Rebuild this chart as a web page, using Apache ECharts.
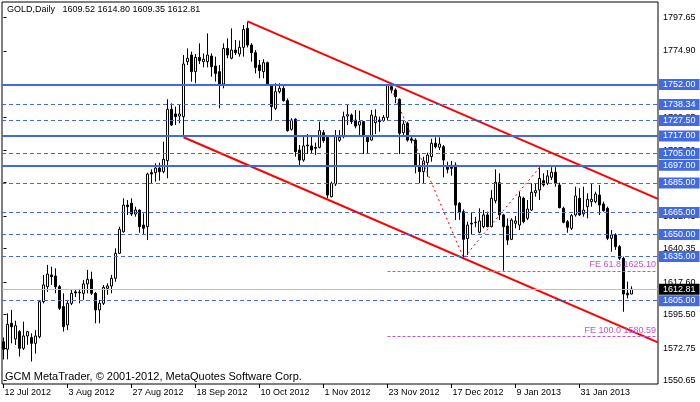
<!DOCTYPE html>
<html><head><meta charset="utf-8">
<script src="https://cdn.jsdelivr.net/npm/echarts@6/dist/echarts.min.js"></script>
<style>html,body{margin:0;padding:0;background:#fff}#c{width:700px;height:402px}</style>
</head><body><div id="c"></div>
<script>
const symbolName = 'GOLD,Daily';
const copyright = 'GCM MetaTrader, \u00a9 2001-2012, MetaQuotes Software Corp.';

const open = [1577.0,1572.0,1589.6,1579.0,1584.0,1572.6,1581.0,1580.0,1576.0,1580.5,
1604.3,1614.5,1622.5,1621.8,1614.5,1601.0,1588.5,1603.2,1611.0,1610.3,
1610.0,1616.4,1619.5,1610.0,1598.7,1603.2,1613.4,1615.0,1620.2,1637.2,
1651.9,1670.0,1671.2,1663.9,1666.6,1656.4,1655.3,1692.0,1692.0,1695.2,
1692.7,1700.2,1735.1,1731.9,1730.5,1730.1,1767.5,1772.0,1760.7,1770.4,
1767.5,1767.5,1771.3,1764.5,1760.7,1752.3,1776.5,1769.8,1775.4,1772.7,
1777.2,1790.1,1778.8,1773.6,1765.2,1760.7,1766.8,1751.6,1735.8,1747.1,
1749.4,1741.0,1721.5,1728.3,1707.4,1700.6,1710.2,1710.2,1709.2,1709.2,
1719.2,1716.0,1675.7,1684.3,1714.0,1716.5,1730.5,1731.2,1727.8,1724.4,
1726.7,1716.0,1714.2,1726.0,1727.8,1727.4,1729.6,1750.5,1748.2,1741.9,
1719.2,1725.6,1715.0,1714.2,1696.1,1692.7,1698.8,1702.9,1712.0,1709.3,
1709.7,1696.1,1697.0,1697.2,1671.2,1665.5,1647.2,1657.6,1658.0,1651.5,
1655.3,1663.3,1655.3,1673.0,1685.2,1663.3,1655.8,1646.7,1657.6,1656.4,
1674.6,1661.0,1666.6,1678.4,1680.2,1686.6,1684.8,1688.9,1692.3,1683.6,
1667.8,1658.7,1654.2,1663.3,1674.6,1664.0,1668.9,1672.3,1672.3,1676.8,
1670.7,1667.8,1647.4,1649.7,1641.7,1633.8,1610.0,1609.52];

const high = [1580.0,1596.4,1598.7,1591.4,1585.0,1590.7,1584.5,1582.8,1585.0,1605.5,
1622.5,1629.3,1628.1,1627.0,1615.7,1610.0,1605.5,1612.3,1613.0,1613.0,
1619.0,1625.9,1624.7,1611.0,1605.5,1615.7,1616.8,1622.5,1640.6,1655.3,
1674.6,1673.4,1674.6,1668.9,1667.0,1664.4,1692.0,1694.3,1698.4,1698.8,
1713.1,1741.9,1739.1,1736.9,1738.0,1772.0,1776.5,1774.3,1772.7,1779.9,
1773.1,1786.7,1773.1,1770.9,1765.2,1779.9,1783.3,1790.1,1782.2,1781.8,
1792.4,1794.7,1780.0,1775.4,1768.6,1769.1,1767.5,1752.0,1752.8,1752.8,
1751.6,1742.5,1729.0,1729.0,1710.8,1716.5,1718.3,1716.5,1712.4,1726.7,
1721.0,1716.5,1685.9,1721.0,1721.0,1733.5,1738.0,1732.3,1734.6,1734.2,
1727.1,1716.5,1734.6,1735.1,1730.1,1731.2,1752.3,1751.0,1749.4,1742.5,
1727.8,1726.7,1716.5,1715.4,1705.2,1702.9,1705.6,1715.0,1716.0,1716.0,
1710.8,1699.5,1700.0,1699.0,1672.0,1667.0,1658.7,1665.0,1662.0,1667.8,
1666.6,1665.5,1680.2,1694.3,1691.6,1664.0,1661.0,1661.0,1662.6,1679.1,
1675.7,1673.4,1684.8,1684.8,1695.7,1691.6,1693.8,1695.7,1695.7,1685.2,
1668.9,1659.8,1663.9,1682.5,1681.4,1682.5,1678.0,1684.8,1679.1,1683.6,
1672.3,1668.9,1653.0,1650.8,1642.9,1634.9,1618.0,1614.80];

const low = [1565.0,1565.1,1576.0,1574.9,1567.0,1571.5,1575.0,1563.6,1569.0,1579.4,
1603.2,1611.0,1615.7,1610.0,1598.7,1584.0,1585.0,1602.0,1607.5,1603.2,
1605.5,1610.0,1608.9,1589.6,1589.6,1602.0,1609.0,1610.0,1617.9,1636.7,
1651.2,1663.2,1662.6,1662.1,1651.2,1650.3,1646.2,1684.8,1685.9,1686.6,
1691.6,1688.2,1723.8,1724.4,1725.6,1716.5,1765.2,1753.9,1752.8,1765.9,
1763.6,1763.6,1757.3,1753.9,1735.8,1749.4,1769.8,1769.1,1772.0,1770.9,
1770.9,1777.2,1767.5,1759.5,1756.2,1756.2,1751.0,1727.6,1734.6,1745.9,
1740.3,1719.9,1720.6,1702.9,1697.2,1699.5,1704.7,1704.7,1704.0,1708.6,
1712.4,1674.6,1675.2,1683.0,1713.0,1715.4,1724.4,1725.1,1722.2,1717.6,
1704.7,1704.7,1713.8,1718.3,1719.9,1726.7,1727.4,1746.0,1739.2,1704.7,
1717.6,1713.1,1712.0,1691.6,1684.8,1684.8,1689.3,1699.5,1708.6,1707.4,
1688.8,1691.6,1690.0,1659.8,1660.0,1634.0,1636.0,1650.0,1655.0,1650.8,
1654.2,1654.9,1654.9,1671.2,1659.8,1625.4,1642.9,1646.2,1654.2,1653.0,
1657.6,1659.8,1666.2,1675.7,1673.4,1682.5,1683.6,1687.0,1682.5,1667.8,
1657.6,1651.2,1653.0,1662.1,1662.6,1662.1,1661.0,1668.9,1671.2,1663.3,
1665.5,1646.2,1638.3,1639.5,1632.7,1597.5,1606.6,1609.35];

const close = [1572.0,1588.9,1587.3,1588.0,1572.6,1581.0,1583.9,1576.0,1581.0,1604.3,
1615.7,1623.1,1621.3,1614.5,1599.8,1587.3,1603.2,1610.0,1610.3,1610.8,
1616.4,1619.5,1610.0,1598.7,1603.2,1614.0,1615.0,1620.2,1637.2,1653.5,
1670.0,1668.9,1663.9,1666.6,1655.3,1654.2,1691.1,1691.1,1695.2,1692.7,
1701.1,1735.1,1724.4,1730.1,1731.9,1765.9,1769.8,1760.7,1770.4,1768.2,
1769.1,1772.0,1764.1,1759.5,1752.3,1776.5,1772.0,1775.4,1773.6,1777.2,
1789.4,1778.8,1773.6,1763.6,1761.4,1766.8,1751.6,1736.9,1747.1,1749.4,
1741.0,1720.6,1727.8,1706.3,1700.6,1710.2,1710.8,1707.4,1708.6,1720.6,
1713.8,1676.8,1684.8,1716.5,1716.0,1730.1,1731.5,1726.7,1723.7,1726.7,
1717.6,1713.1,1731.2,1730.1,1726.7,1729.6,1751.6,1748.2,1743.7,1718.8,
1725.1,1714.2,1714.0,1697.2,1692.7,1700.0,1704.0,1712.0,1709.7,1711.5,
1700.6,1694.3,1695.0,1670.0,1664.8,1646.7,1656.4,1657.1,1658.3,1659.2,
1663.3,1655.3,1674.6,1685.5,1663.3,1655.3,1646.2,1659.8,1659.2,1675.7,
1658.7,1667.3,1678.7,1679.8,1688.2,1683.6,1689.8,1692.3,1684.8,1668.2,
1658.3,1654.9,1662.8,1676.2,1663.3,1666.6,1673.9,1673.9,1677.5,1670.0,
1666.2,1647.4,1649.7,1641.7,1633.8,1609.5,1609.0,1612.81];

const xTickIdx = [0,16,32,48,64,80,96,112,128,144];
const xTickLabels = ['12 Jul 2012','3 Aug 2012','27 Aug 2012','18 Sep 2012','10 Oct 2012','1 Nov 2012','23 Nov 2012','17 Dec 2012','9 Jan 2013','31 Jan 2013'];
const yTickValues = [1797.65,1774.90,1752.15,1729.85,1707.30,1685.20,1662.45,1640.35,1617.60,1595.50,1572.75,1550.65];

const solidLevels = [1752.00,1717.00,1697.00];
const dashedLevels = [1738.34,1727.50,1705.00,1685.00,1665.00,1650.00,1635.00,1605.00];
const lastPrice = 1612.81;
const feNames = ['FE 61.8','FE 100.0'];
const feValues = [1625.10,1580.59];
const feStartIdx = 96;
const zigzag = [[97,1749.0],[115,1634.0],[134,1695.6]];
const channelUpper = [[61,1794.9],[163.6,1674.2]];
const channelLower = [[45,1716.1],[163.6,1576.7]];

const X_MIN = -0.375, X_MAX = 163.625;
const Y_MIN = 1548.35, Y_MAX = 1808.05;
const BLUE = '#4169E1';
const FONT = '"Liberation Sans", Arial, sans-serif';

const candles = open.map((o, i) => [i, o, close[i], low[i], high[i]]);
const n = open.length - 1;
const header = symbolName + '   ' + [open[n], high[n], low[n], close[n]].map(v => v.toFixed(2)).join(' ');

const boxLabel = (bg) => ({
  show: true, position: 'end', distance: 1,
  formatter: p => Number(p.value).toFixed(2),
  backgroundColor: bg, color: '#fff', fontSize: 9, fontFamily: FONT,
  lineHeight: 9, padding: [1, 4, 1, 4]
});

const mlData = [];
dashedLevels.forEach(v => mlData.push({ yAxis: v, lineStyle: { color: BLUE, width: 1, type: [4, 3] }, label: boxLabel(BLUE) }));
solidLevels.forEach(v => mlData.push({ yAxis: v, lineStyle: { color: BLUE, width: 2, type: 'solid' }, label: boxLabel(BLUE) }));
mlData.push({ yAxis: lastPrice, lineStyle: { color: '#c0c0c0', width: 1, type: 'solid' }, label: boxLabel('#000') });
feValues.forEach((v, k) => mlData.push([
  { coord: [feStartIdx, v], lineStyle: { color: '#BA55D3', width: 1, type: [3, 2] },
    label: { show: true, position: 'insideEndTop', distance: [2, 2], formatter: feNames[k] + ' ' + v.toFixed(2),
             color: '#BA55D3', fontSize: 9, fontFamily: FONT } },
  { coord: [X_MAX, v] }
]));

const chart = echarts.init(document.getElementById('c'), null, { renderer: 'canvas' });
chart.setOption({
  animation: false,
  backgroundColor: '#fff',
  textStyle: { fontFamily: FONT },
  grid: { left: 2, top: 2, right: 42, bottom: 18, show: true, borderColor: '#000', borderWidth: 1, backgroundColor: '#fff' },
  xAxis: {
    type: 'value', min: X_MIN, max: X_MAX,
    splitLine: { show: false },
    axisLine: { show: false },
    axisTick: { show: true, customValues: xTickIdx, length: 4, lineStyle: { color: '#000' } },
    axisLabel: { customValues: xTickIdx, formatter: v => xTickLabels[xTickIdx.indexOf(v)] || '',
                 align: 'left', margin: 4, color: '#000', fontSize: 9, fontFamily: FONT, padding: [0, 0, 0, 1] }
  },
  yAxis: {
    type: 'value', position: 'right', min: Y_MIN, max: Y_MAX, scale: true,
    splitLine: { show: false },
    axisLine: { show: false },
    axisTick: { show: true, customValues: yTickValues, length: 3, lineStyle: { color: '#000' } },
    axisLabel: { customValues: yTickValues, formatter: v => v.toFixed(2), margin: 5, color: '#000', fontSize: 9, fontFamily: FONT }
  },
  graphic: [
    { type: 'text', left: 7, top: 5, style: { text: header, fill: '#000', font: '9px ' + FONT } },
    { type: 'text', left: 5, top: 371, style: { text: copyright, fill: '#000', font: '11px ' + FONT } }
  ],
  series: [
    {
      type: 'candlestick', data: candles, barWidth: 2, silent: true,
      itemStyle: { color: '#fff', color0: '#000', borderColor: '#000', borderColor0: '#000', borderWidth: 1 },
      markLine: { symbol: ['none', 'none'], silent: true, animation: false, data: mlData }
    },
    { type: 'line', data: channelUpper, showSymbol: false, silent: true, clip: true, lineStyle: { color: '#ff0000', width: 2 } },
    { type: 'line', data: channelLower, showSymbol: false, silent: true, clip: true, lineStyle: { color: '#ff0000', width: 2 } },
    { type: 'line', data: zigzag, showSymbol: false, silent: true, clip: true, lineStyle: { color: '#ff0000', width: 1, type: [2, 3] } }
  ]
});
</script></body></html>
